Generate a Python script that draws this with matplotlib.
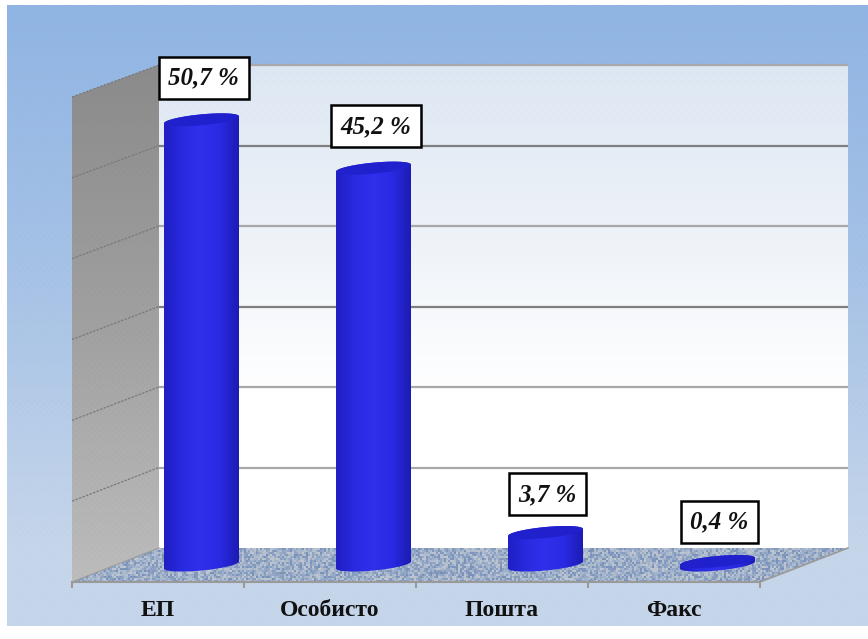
import numpy as np
import matplotlib
matplotlib.use('Agg')
import matplotlib.pyplot as plt
from matplotlib.colors import LinearSegmentedColormap
from matplotlib.patches import Polygon

categories = ['ЕП', 'Особисто', 'Пошта', 'Факс']
values = [50.7, 45.2, 3.7, 0.4]
labels = ['50,7 %', '45,2 %', '3,7 %', '0,4 %']
label_offsets = [30, 30, 27.5, 28.5]
grid_values = [0, 10, 20, 30, 40, 50, 60]
dark_grid = [30, 50]

W, H = 868, 639
plt.rcParams['font.family'] = ['Liberation Serif', 'DejaVu Serif']

fig = plt.figure(figsize=(W / 100, H / 100), dpi=100, facecolor='white')

# background, in pixel coords
bg = fig.add_axes([0, 0, 1, 1])
bg.set_xlim(0, W)
bg.set_ylim(H, 0)
bg.axis('off')

yy, xx = np.mgrid[5:626, 7:868]
grad = np.clip((yy - 5) / 540, 0, 1)
dots = ((xx // 3 + yy // 3) % 2) * 0.03
bg_cmap = LinearSegmentedColormap.from_list('bg', ['#8fb4e3', '#a6c2e6', '#c6d6ea'])
bg.imshow(grad + dots, cmap=bg_cmap, vmin=0, vmax=1.03, extent=(7, 868, 626, 5), aspect='auto')

# back wall
wy, wx = np.mgrid[65:548, 159:848]
wall_grad = np.clip((wy - 65) / 330, 0, 1)
wall_dots = ((wx // 4 + wy // 4) % 2) * 0.035 * (1 - wall_grad)
wall_cmap = LinearSegmentedColormap.from_list('wall', ['#dce6f2', '#edf2f8', '#ffffff'])
bg.imshow(wall_grad + wall_dots, cmap=wall_cmap, vmin=0, vmax=1, extent=(159, 848, 548, 65), aspect='auto')

# side wall
sy, sx = np.mgrid[65:583, 72:160]
side_vals = (sy - 65) / 517 + ((sx // 3 + sy // 3) % 2) * 0.03
side_cmap = LinearSegmentedColormap.from_list('side', ['#8a8a8a', '#a0a0a0', '#bdbdbd'])
side = Polygon([(72, 97), (159, 65), (159, 548), (72, 582)], closed=True, fc='none', ec='none')
bg.add_patch(side)
im = bg.imshow(side_vals, cmap=side_cmap, vmin=0, vmax=1.03, extent=(72, 160, 583, 65), aspect='auto')
im.set_clip_path(side)

# floor, speckled texture
fy, fx = np.mgrid[548:583, 72:849]
cx, cy = fx // 2, fy // 2
speck = np.sin(cx * 12.9898 + cy * 78.233) * 43758.5453
speck = speck - np.floor(speck)
floor_cmap = LinearSegmentedColormap.from_list('floor', ['#7890b8', '#9db0cb', '#c2c8d0'])
floor = Polygon([(159, 548), (848, 548), (760, 582), (72, 582)], closed=True, fc='none', ec='none')
bg.add_patch(floor)
im = bg.imshow(speck, cmap=floor_cmap, extent=(72, 849, 583, 548), aspect='auto', interpolation='bilinear')
im.set_clip_path(floor)
bg.plot([848, 760], [548, 582], color='#9a9a9a', lw=1.2)
bg.plot([72, 159], [582, 548], color='#9a9a9a', lw=0.8)
bg.set_xlim(0, W)
bg.set_ylim(H, 0)

# gridlines on both walls
for g in grid_values:
    col = '#7f7f7f' if g in dark_grid else '#a8a8a8'
    back_y = 548 - g * 483 / 60
    front_y = 582 - g * 485 / 60
    if g > 0:
        bg.plot([159, 848], [back_y, back_y], color=col, lw=1.6, solid_capstyle='butt')
        bg.plot([72, 159], [front_y, back_y], color='#7a7a7a', lw=0.9, ls=(0, (2, 1)))

# front plane axes: x runs over the categories, y is percent
PX_PER_UNIT = 8.78
ax = fig.add_axes([72 / W, 1 - 582 / H, 688 / W, 485 / H])
ax.patch.set_alpha(0)
ax.set_xlim(0, 4)
ax.set_ylim(-17 / PX_PER_UNIT, 468 / PX_PER_UNIT)
for s in ['top', 'left', 'right']:
    ax.spines[s].set_visible(False)
ax.spines['bottom'].set_color('#9a9a9a')
ax.spines['bottom'].set_linewidth(1.5)
ax.set_yticks([])
ax.set_xticks(range(5))
ax.set_xticklabels([])
ax.tick_params(axis='x', which='major', length=4.5, width=1.5, color='#9a9a9a')
ax.set_xticks(np.arange(4) + 0.5, minor=True)
ax.set_xticklabels(categories, minor=True, fontsize=17, fontweight='bold', color='#111111')
ax.tick_params(axis='x', which='minor', length=0, pad=13)

# cylinders
depth = 43.5 / 172
half_w = 37.5 / 172
b = 5.5 / PX_PER_UNIT
shear = 3.5 / PX_PER_UNIT
body_cmap = LinearSegmentedColormap.from_list('body', ['#1f1fc4', '#2a2ae2', '#3030ec', '#2a2ae4', '#1c1cb4'])
theta = np.linspace(0, np.pi, 50)

for i, v in enumerate(values):
    c = i + 0.5 + depth
    top_x = c + half_w * np.cos(theta)
    top_y = v + shear * np.cos(theta) + b * np.sin(theta)
    bot_x = c + half_w * np.cos(theta + np.pi)
    bot_y = shear * np.cos(theta + np.pi) + b * np.sin(theta + np.pi)
    outline = np.column_stack([np.r_[top_x, bot_x], np.r_[top_y, bot_y]])
    body = Polygon(outline, closed=True, fc='none', ec='none', transform=ax.transData)
    ax.add_patch(body)
    im = ax.imshow(np.linspace(0, 1, 80).reshape(1, -1), cmap=body_cmap, aspect='auto',
                   extent=(c - half_w, c + half_w, -2, v + 2), zorder=3)
    im.set_clip_path(body)
    cap_x = c + half_w * np.cos(theta * 2)
    cap_y = v + shear * np.cos(theta * 2) + b * np.sin(theta * 2)
    ax.add_patch(Polygon(np.column_stack([cap_x, cap_y]), closed=True, fc='#2020cc', ec='none', zorder=4))
    ax.annotate(labels[i], xy=(c, v), xytext=(1.5, label_offsets[i]), textcoords='offset points',
                ha='center', va='center', fontsize=18, fontweight='bold', fontstyle='italic', color='#111111',
                bbox=dict(boxstyle='square,pad=0.38', fc='white', ec='black', lw=1.8), zorder=6)

ax.set_xlim(0, 4)
ax.set_ylim(-17 / PX_PER_UNIT, 468 / PX_PER_UNIT)

fig.savefig('out.png', dpi=100)
